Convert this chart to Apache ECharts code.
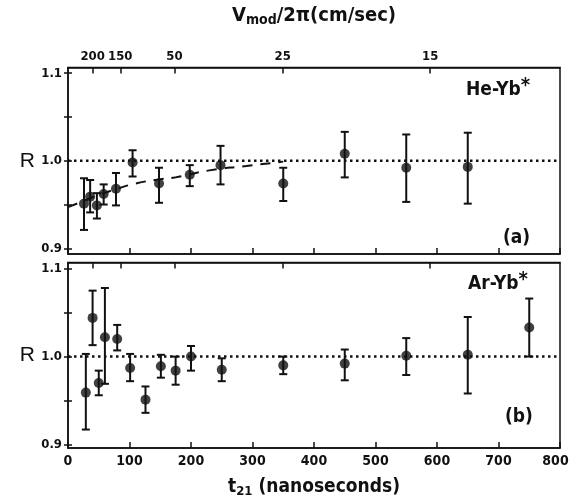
<!DOCTYPE html>
<html><head><meta charset="utf-8">
<script src="https://cdn.jsdelivr.net/npm/echarts@6/dist/echarts.min.js"></script>
<style>html,body{margin:0;padding:0;background:#fff}#c{width:570px;height:499px}</style>
</head><body><div id="c"></div>
<script>
// Panel (a) He-Yb*
const tA  = [26, 36, 47, 58, 78, 105, 148, 198, 248, 350, 450, 550, 650];
const rA  = [0.951, 0.959, 0.949, 0.962, 0.968, 0.998, 0.974, 0.984, 0.995, 0.974, 1.008, 0.992, 0.993];
const hiA = [0.980, 0.978, 0.963, 0.973, 0.986, 1.012, 0.992, 0.995, 1.017, 0.992, 1.033, 1.030, 1.032];
const loA = [0.921, 0.941, 0.934, 0.950, 0.949, 0.982, 0.952, 0.971, 0.973, 0.954, 0.981, 0.953, 0.951];
// dashed fit curve
const fitT = [0, 25, 50, 80, 110, 150, 175, 230, 290, 350];
const fitR = [0.947, 0.954, 0.961, 0.968, 0.974, 0.979, 0.981, 0.989, 0.994, 0.999];
// Panel (b) Ar-Yb*
const tB  = [29, 40, 50, 60, 80, 101, 126, 151, 175, 200, 250, 350, 450, 550, 650, 750];
const rB  = [0.959, 1.044, 0.970, 1.022, 1.020, 0.987, 0.951, 0.989, 0.984, 1.000, 0.985, 0.990, 0.992, 1.001, 1.002, 1.033];
const hiB = [1.003, 1.075, 0.984, 1.078, 1.036, 1.003, 0.966, 1.002, 1.000, 1.012, 0.998, 1.000, 1.008, 1.021, 1.045, 1.066];
const loB = [0.917, 1.013, 0.956, 0.969, 1.007, 0.972, 0.936, 0.976, 0.968, 0.984, 0.972, 0.980, 0.973, 0.979, 0.958, 1.000];
// axes
const yTicks = [0.9, 0.95, 1.0, 1.05, 1.1];
const yLabels = [0.9, 1.0, 1.1];
const topTickPos = [40, 85, 173, 349, 589];
const topTickLabels = ['200', '150', '50', '25', '15'];
const refLine = [[0, 1], [800, 1]];

const FONT = "'Liberation Sans Narrow','DejaVu Sans Condensed','Liberation Sans',sans-serif";
const INK = '#111';

function errItem(params, api) {
  const x = api.value(0), lo = api.value(1), hi = api.value(2);
  const p1 = api.coord([x, hi]), p2 = api.coord([x, lo]);
  const w = 4;
  const st = {stroke: INK, lineWidth: 2};
  return {type: 'group', children: [
    {type: 'line', shape: {x1: p1[0], y1: p1[1], x2: p2[0], y2: p2[1]}, style: st},
    {type: 'line', shape: {x1: p1[0] - w, y1: p1[1], x2: p1[0] + w, y2: p1[1]}, style: st},
    {type: 'line', shape: {x1: p2[0] - w, y1: p2[1], x2: p2[0] + w, y2: p2[1]}, style: st}
  ]};
}

function xBottom(grid, labels) {
  return {
    type: 'value', gridIndex: grid, position: 'bottom', min: 0, max: 800, interval: 100,
    axisLine: {show: true, lineStyle: {color: INK, width: 1.5}},
    axisTick: {show: true, inside: true, length: 6, lineStyle: {color: INK, width: 1.5}},
    axisLabel: {show: labels, color: INK, fontFamily: FONT, fontWeight: 'bold', fontSize: 14, margin: 6,
      formatter: v => v === 800 ? '{m|800}' : String(v),
      rich: {m: {fontFamily: FONT, fontWeight: 'bold', fontSize: 14, color: INK, padding: [0, 9, 0, 0]}}},
    splitLine: {show: false},
    name: labels ? 't{s|21} (nanoseconds)' : '',
    nameLocation: 'middle', nameGap: 28,
    nameTextStyle: {color: INK, fontFamily: FONT, fontWeight: 'bold', fontSize: 19,
      rich: {s: {fontSize: 13, fontFamily: FONT, fontWeight: 'bold', color: INK, padding: [9, 0, 0, 0]}}}
  };
}
function xTop(grid, labels) {
  return {
    type: 'value', gridIndex: grid, position: 'top', min: 0, max: 800,
    axisLine: {show: true, lineStyle: {color: INK, width: 1.5}},
    axisTick: {show: true, inside: true, length: 6, customValues: topTickPos, lineStyle: {color: INK, width: 1.5}},
    axisLabel: {show: labels, customValues: topTickPos, color: INK, fontFamily: FONT, fontWeight: 'bold', fontSize: 13, margin: 4,
      formatter: v => { const i = topTickPos.indexOf(v); return i >= 0 ? topTickLabels[i] : ''; }},
    splitLine: {show: false},
    name: labels ? 'V{s|mod}/2\u03c0(cm/sec)' : '',
    nameLocation: 'middle', nameGap: 40,
    nameTextStyle: {color: INK, fontFamily: FONT, fontWeight: 'bold', fontSize: 20,
      rich: {s: {fontSize: 14, fontFamily: FONT, fontWeight: 'bold', color: INK, padding: [10, 0, 0, 0]}}}
  };
}
function yMain(grid, mn, mx) {
  return {
    type: 'value', gridIndex: grid, min: mn, max: mx,
    axisLine: {show: true, lineStyle: {color: INK, width: 1.5}},
    axisTick: {show: true, inside: false, length: 4, customValues: yTicks, lineStyle: {color: INK, width: 1.5}},
    axisLabel: {customValues: yLabels, color: INK, fontFamily: FONT, fontWeight: 'bold', fontSize: 13, margin: 6,
      formatter: v => v.toFixed(1)},
    splitLine: {show: false},
    name: 'R', nameLocation: 'middle', nameRotate: 0, nameGap: 33,
    nameTextStyle: {color: INK, fontFamily: "'Liberation Sans',sans-serif", fontSize: 21}
  };
}
function yInner(grid, mn, mx) {
  return {
    type: 'value', gridIndex: grid, min: mn, max: mx, position: 'left', offset: 0,
    axisLine: {show: false},
    axisTick: {show: true, inside: true, length: 4, customValues: yTicks, lineStyle: {color: INK, width: 1.5}},
    axisLabel: {show: false}, splitLine: {show: false}
  };
}

const chart = echarts.init(document.getElementById('c'), null, {renderer: 'canvas'});
const gridStyle = {show: true, borderColor: INK, borderWidth: 1.5, backgroundColor: 'transparent', outerBoundsMode: 'none', containLabel: false};
const dotted = {color: INK, width: 2.5, type: [2.5, 3.5]};

chart.setOption({
  backgroundColor: '#fff',
  animation: false,
  grid: [
    Object.assign({left: 68, right: 10, top: 67.5, height: 186.5}, gridStyle),
    Object.assign({left: 68, right: 10, top: 262.5, height: 185.5}, gridStyle)
  ],
  xAxis: [xBottom(0, false), xTop(0, true), xBottom(1, true), xTop(1, false)],
  yAxis: [yMain(0, 0.8935, 1.1065), yInner(0, 0.8935, 1.1065), yMain(1, 0.8960, 1.1070), yInner(1, 0.8960, 1.1070)],
  graphic: [
    {type: 'text', left: 466, top: 76, style: {text: 'He-Yb{s|*}', fill: INK, font: "bold 19px " + FONT,
      rich: {s: {font: "bold 20px " + FONT, fill: INK, padding: [0, 0, 8, 0]}}}},
    {type: 'text', left: 503, top: 229, style: {text: '(a)', fill: INK, font: "bold 19px " + FONT}},
    {type: 'text', left: 468, top: 270, style: {text: 'Ar-Yb{s|*}', fill: INK, font: "bold 19px " + FONT,
      rich: {s: {font: "bold 20px " + FONT, fill: INK, padding: [0, 0, 8, 0]}}}},
    {type: 'text', left: 505, top: 408, style: {text: '(b)', fill: INK, font: "bold 19px " + FONT}}
  ],
  series: [
    {type: 'line', xAxisIndex: 0, yAxisIndex: 0, data: refLine, symbol: 'none', lineStyle: dotted, silent: true},
    {type: 'line', xAxisIndex: 0, yAxisIndex: 0, data: fitT.map((t, i) => [t, fitR[i]]), symbol: 'none', smooth: true,
      lineStyle: {color: INK, width: 2, type: [10, 8]}, silent: true},
    {type: 'custom', xAxisIndex: 0, yAxisIndex: 0, data: tA.map((t, i) => [t, loA[i], hiA[i]]), renderItem: errItem,
      encode: {x: 0, y: [1, 2]}, silent: true},
    {type: 'scatter', xAxisIndex: 0, yAxisIndex: 0, data: tA.map((t, i) => [t, rA[i]]), symbol: 'circle', symbolSize: 10,
      itemStyle: {color: INK}, silent: true},
    {type: 'line', xAxisIndex: 2, yAxisIndex: 2, data: refLine, symbol: 'none', lineStyle: dotted, silent: true},
    {type: 'custom', xAxisIndex: 2, yAxisIndex: 2, data: tB.map((t, i) => [t, loB[i], hiB[i]]), renderItem: errItem,
      encode: {x: 0, y: [1, 2]}, silent: true},
    {type: 'scatter', xAxisIndex: 2, yAxisIndex: 2, data: tB.map((t, i) => [t, rB[i]]), symbol: 'circle', symbolSize: 10,
      itemStyle: {color: INK}, silent: true}
  ]
});
</script></body></html>
